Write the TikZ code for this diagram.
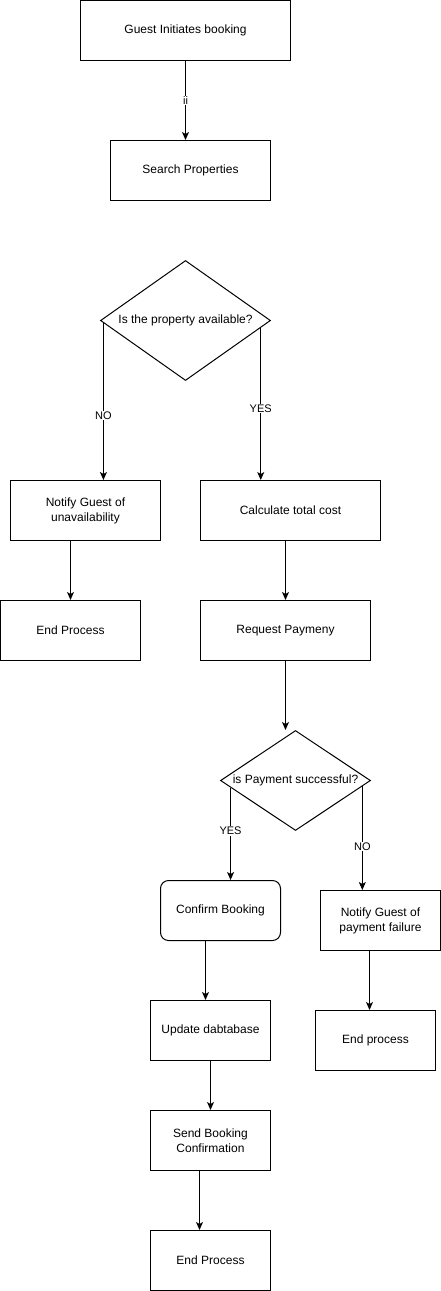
\documentclass[tikz,border=0pt]{standalone}
\usepackage{fontspec}
\setmainfont{Liberation Sans}
\usetikzlibrary{shapes.geometric,arrows.meta,calc}

\begin{document}
\begin{tikzpicture}[x=1pt,y=-1pt,
  font=\fontsize{12}{15}\selectfont,
  box/.style={draw,line width=1pt,inner sep=0pt,align=center,minimum height=60pt},
  roundbox/.style={box,rounded corners=8pt},
  decision/.style={draw,line width=1pt,diamond,inner sep=0pt},
  flow/.style={line width=1pt,-{Stealth[length=8pt,width=7pt,inset=2pt]}},
  lbl/.style={fill=white,inner sep=1pt,font=\fontsize{11}{13}\selectfont}]
\useasboundingbox (0,0) rectangle (441,1291);

\node [box,minimum width=210pt] (guest) at (185.5,30.5) {Guest Initiates booking};
\node [box,minimum width=160pt] (search) at (190.5,170.5) {Search Properties};
\node [decision,minimum width=170pt,minimum height=120pt,
       label=center:{Is the property available?}] (avail) at (185.5,320.5) {};
\node [box,minimum width=150pt] (notify) at (85.5,510.5) {Notify Guest of\\unavailability};
\node [box,minimum width=180pt] (calc) at (290.5,510.5) {Calculate total cost};
\node [box,minimum width=140pt] (end1) at (70.5,630.5) {End Process};
\node [box,minimum width=170pt] (request) at (285.5,630.5) {Request Paymeny};
\node [decision,minimum width=150pt,minimum height=100pt,
       label=center:{is Payment successful?}] (pay) at (295.5,780.5) {};
\node [roundbox,minimum width=120pt] (confirm) at (220.5,910.5) {Confirm Booking};
\node [box,minimum width=120pt] (notifypay) at (380.5,920.5) {Notify Guest of\\payment failure};
\node [box,minimum width=120pt] (update) at (210.5,1030.5) {Update dabtabase};
\node [box,minimum width=120pt] (endpay) at (375.5,1040.5) {End process};
\node [box,minimum width=120pt] (send) at (210.5,1140.5) {Send Booking\\Confirmation};
\node [box,minimum width=120pt] (end2) at (210.5,1260.5) {End Process};

% exits of the two decisions
\coordinate (noA) at ($(avail.west)!.04!(avail.south)$);
\coordinate (yesA) at ($(avail.east)!.12!(avail.south)$);
\coordinate (yesB) at ($(pay.west)!.14!(pay.south)$);
\coordinate (noB) at ($(pay.east)!.115!(pay.south)$);

\draw [flow] (guest.south) -- node[lbl] {ii} (guest.south |- search.north);
\draw [flow] (noA) -- node[lbl,pos=.59] {NO} (noA |- notify.north);
\draw [flow] (yesA) -- node[lbl,pos=.53] {YES} (yesA |- calc.north);
\foreach \a/\b in {notify/end1, calc/request} {
  \draw [flow] (\b.north |- \a.south) -- (\b.north);
}
\draw [flow] (request.south) -- (request.south |- pay.north);
\draw [flow] (yesB) -- node[lbl,pos=.47] {YES} (yesB |- confirm.north);
\draw [flow] (noB) -- node[lbl,pos=.58] {NO} (noB |- notifypay.north);
\draw [flow] ([xshift=-15pt]confirm.south) -- ([xshift=-15pt]confirm.south |- update.north);
\draw [flow] ([xshift=-11pt]notifypay.south) -- ([xshift=-11pt]notifypay.south |- endpay.north);
\draw [flow] (update) -- (send);
\draw [flow] ([xshift=-11pt]send.south) -- ([xshift=-11pt]send.south |- end2.north);
\end{tikzpicture}
\end{document}
